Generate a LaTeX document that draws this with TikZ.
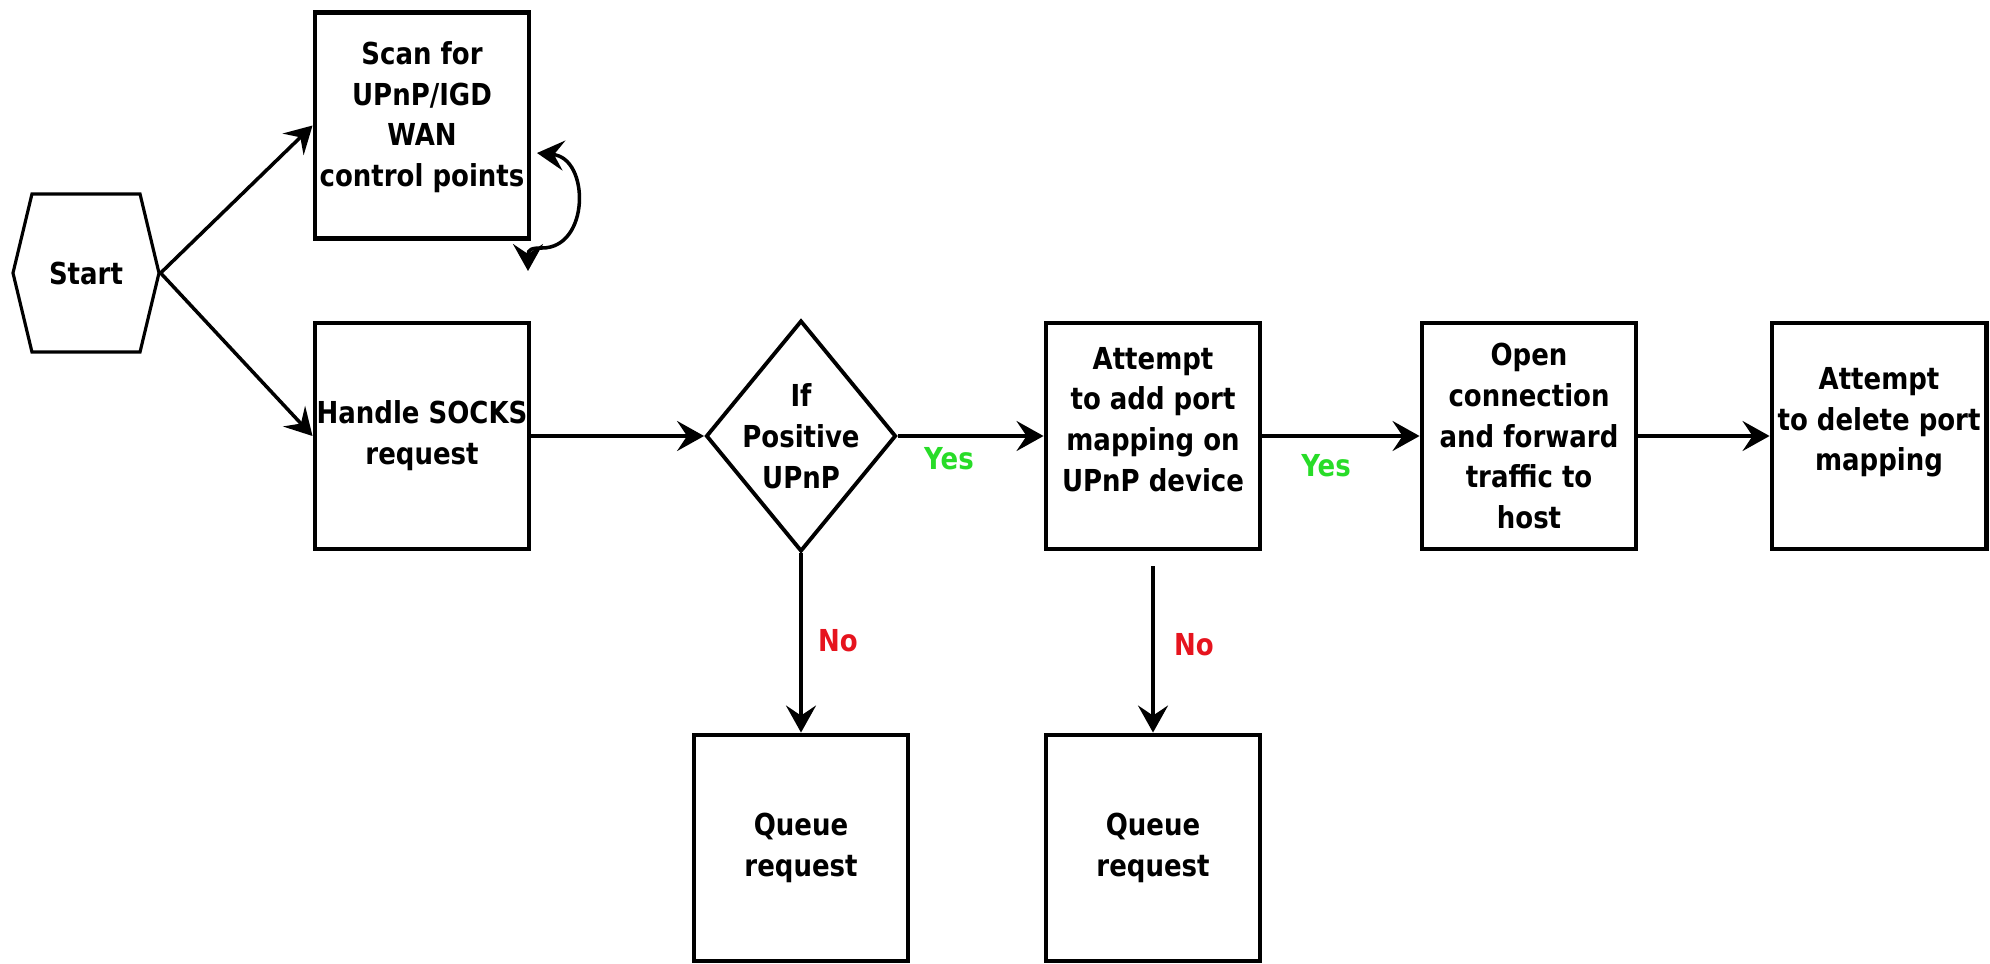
\documentclass[tikz,border=0pt]{standalone}
\usepackage{fontspec}
\setmainfont{DejaVu Sans}[FakeStretch=0.86]
\usetikzlibrary{arrows.meta,shapes.geometric,shapes.symbols}

\definecolor{yesgreen}{RGB}{40,220,40}
\definecolor{nored}{RGB}{230,20,30}

\tikzset{
	every node/.style={font=\bfseries\fontsize{8.6}{11.6}\selectfont, align=center},
	stepbox/.style={draw, line width=1.4pt, minimum width=2.14cm, minimum height=2.26cm, inner sep=0pt},
	startnode/.style={draw, line width=0.9pt, signal, signal to=east and west, signal pointer angle=153,
		minimum width=1.46cm, minimum height=1.58cm, inner sep=0pt},
	test/.style={draw, diamond, line width=1.1pt, aspect=0.82, inner sep=-1.5mm,
		minimum width=1.9cm, minimum height=2.31cm},
	tip/.tip={Stealth[length=2.7mm,width=3mm,inset=1mm]},
	flow/.style={line width=1pt, -tip},
	yes/.style={text=yesgreen},
	no/.style={text=nored}
}

\begin{document}
\begin{tikzpicture}
	\useasboundingbox (0,0) rectangle (19.90,9.63);

	% Start
	\node[startnode] (start) at (0.86,6.90) {Start};

	% Scan and SOCKS boxes
	\node[stepbox] (scan) at (4.22,8.375) {Scan for\\UPnP/IGD\\WAN\\control points\\[-5pt]\mbox{}};
	\node[stepbox] (socks) at (4.22,5.27) {Handle SOCKS\\request};

	% Decision
	\node[test] (upnp) at (8.01,5.27) {If\\Positive\\UPnP};

	% Main row
	\node[stepbox] (addmap) at (11.53,5.27) {Attempt\\to add port\\mapping on\\UPnP device\\[-2pt]\mbox{}};
	\node[stepbox] (fwd) at (15.29,5.27) {Open\\connection\\and forward\\traffic to\\host};
	\node[stepbox] (delmap) at (18.79,5.27) {Attempt\\to delete port\\mapping\\[-2pt]\mbox{}};

	% Queue boxes
	\node[stepbox] (queueA) at (8.01,1.15) {Queue\\request};
	\node[stepbox] (queueB) at (11.53,1.15) {Queue\\request};

	% Arrows
	\draw[flow] (start.east) -- (scan.west);
	\draw[flow] (start.east) -- (socks.west);
	\draw[flow] (socks.east) -- (upnp.west);
	\draw[flow] (upnp.east) -- (addmap.west);
	\draw[flow] (addmap.east) -- (fwd.west);
	\draw[flow] (fwd.east) -- (delmap.west);
	\draw[flow] (upnp.south) -- (queueA.north);
	\draw[flow] [shorten <=1.5mm] (addmap.south) -- (queueB.north);

	% Rescan loop
	\coordinate (loopA) at (5.37,8.10);
	\coordinate (loopB) at (5.28,6.92);
	\draw[line width=1pt] [tip-tip]
		(loopA) .. controls (5.90,8.05) and (5.90,7.15) .. (5.42,7.15)
		.. controls (5.32,7.15) and (5.28,7.14) .. (loopB);

	% Labels
	\node[yes] (yesA) at (9.49,5.04) {Yes};
	\node[yes] (yesB) at (13.26,4.97) {Yes};
	\node[no] (noA) at (8.38,3.22) {No};
	\node[no] (noB) at (11.94,3.18) {No};

\end{tikzpicture}
\end{document}
